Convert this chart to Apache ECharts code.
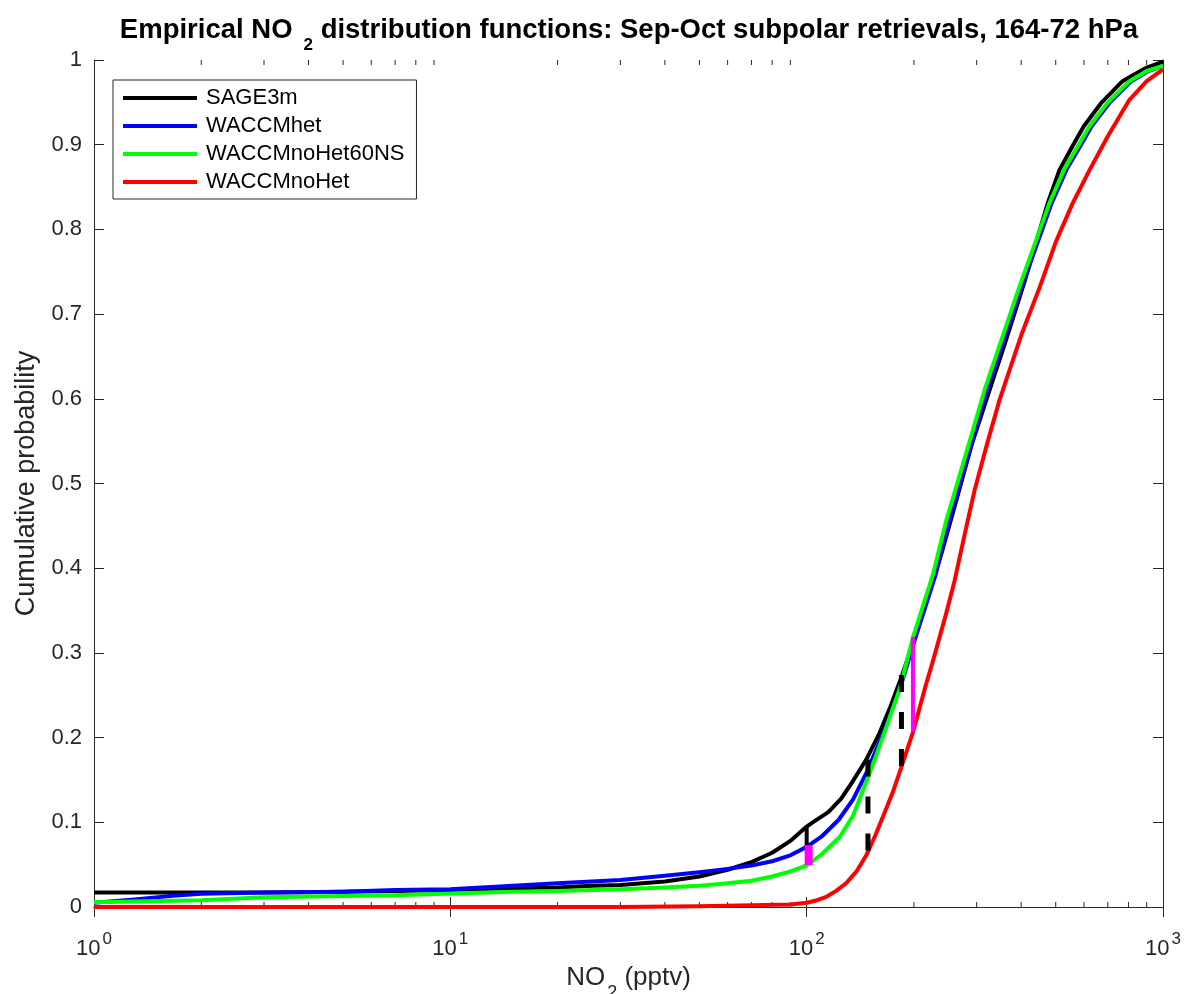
<!DOCTYPE html>
<html>
<head>
<meta charset="utf-8">
<script src="https://cdn.jsdelivr.net/npm/echarts@6/dist/echarts.min.js"></script>
<style>
  html, body { margin: 0; padding: 0; background: #fff; }
  #chart { width: 1186px; height: 994px; }
</style>
</head>
<body>
<div id="chart"></div>
<script>
// NO2 (pptv) and cumulative probability
const sageX = [1, 2, 3, 4, 5, 7, 10, 15, 20, 25, 30, 40, 50, 60, 70, 80, 90, 100, 105, 115, 125, 135, 147, 160, 172, 184, 200, 220, 240, 265, 290, 333, 360, 410, 474, 512, 560, 600, 670, 770, 830, 900, 1000];
const sageP = [0.017, 0.017, 0.017, 0.0175, 0.018, 0.019, 0.020, 0.022, 0.023, 0.025, 0.026, 0.030, 0.036, 0.044, 0.053, 0.064, 0.078, 0.095, 0.101, 0.112, 0.128, 0.149, 0.174, 0.205, 0.237, 0.270, 0.315, 0.370, 0.420, 0.485, 0.545, 0.622, 0.665, 0.740, 0.830, 0.870, 0.900, 0.922, 0.949, 0.975, 0.983, 0.991, 0.998];

const hetX = [1, 1.3, 1.7, 2, 3, 5, 7, 10, 15, 20, 30, 40, 50, 60, 70, 80, 90, 100, 110, 123, 135, 147, 165, 184, 202, 230, 251, 285, 321, 402, 487, 538, 589, 631, 710, 815, 910, 1000];
const hetP = [0.005, 0.009, 0.0135, 0.0155, 0.017, 0.018, 0.020, 0.021, 0.025, 0.028, 0.032, 0.037, 0.041, 0.045, 0.049, 0.054, 0.061, 0.071, 0.083, 0.103, 0.127, 0.158, 0.208, 0.262, 0.318, 0.392, 0.455, 0.535, 0.611, 0.733, 0.831, 0.872, 0.900, 0.922, 0.950, 0.975, 0.987, 0.993];

const noHet60X = [1, 2, 3, 5, 7, 10, 15, 20, 30, 40, 50, 60, 70, 80, 90, 100, 110, 124, 135, 149, 165, 182, 199, 226, 246, 280, 316, 396, 480, 530, 580, 622, 700, 805, 900, 1000];
const noHet60P = [0.0055, 0.008, 0.0115, 0.013, 0.014, 0.016, 0.018, 0.019, 0.021, 0.023, 0.025, 0.028, 0.031, 0.036, 0.042, 0.049, 0.062, 0.083, 0.108, 0.154, 0.205, 0.256, 0.319, 0.392, 0.455, 0.535, 0.611, 0.733, 0.831, 0.872, 0.900, 0.922, 0.950, 0.975, 0.987, 0.993];

const noHetX = [1, 10, 30, 50, 70, 90, 100, 107, 113.5, 121, 129, 138, 147, 156, 165, 175, 184, 199, 216, 226, 246.5, 260, 280, 296, 320, 348, 400, 452, 500, 558, 622, 700, 805, 900, 1000];
const noHetP = [0, 0, 0, 0.001, 0.002, 0.003, 0.005, 0.008, 0.012, 0.019, 0.028, 0.042, 0.061, 0.085, 0.110, 0.137, 0.164, 0.207, 0.262, 0.290, 0.347, 0.385, 0.447, 0.492, 0.545, 0.599, 0.675, 0.733, 0.785, 0.831, 0.870, 0.910, 0.953, 0.975, 0.989];

// largest-gap segments drawn between curves: [x, top, bottom]
const gapSolidBlack = [100, 0.095, 0.071];
const gapMagentaLow = [101.3, 0.073, 0.0496];
const gapDashed1 = [148.6, 0.174, 0.061];
const gapDashed2 = [184.5, 0.274, 0.164];
const gapMagentaHigh = [198.7, 0.319, 0.207];

// minor log ticks
const minorTicks = [2, 3, 4, 5, 6, 7, 8, 9, 20, 30, 40, 50, 60, 70, 80, 90, 200, 300, 400, 500, 600, 700, 800, 900];

const seriesNames = ['SAGE3m', 'WACCMhet', 'WACCMnoHet60NS', 'WACCMnoHet'];

const AX = '#262626';
const FONT = 'Liberation Sans, Arial, Helvetica, sans-serif';

const zip = (xs, ys) => xs.map((x, i) => [x, ys[i]]);
const seg = s => [[s[0], s[1]], [s[0], s[2]]];

const chart = echarts.init(document.getElementById('chart'));

function curve(name, xs, ys, color) {
  return {
    name: name,
    type: 'line',
    data: zip(xs, ys),
    showSymbol: false,
    smooth: false,
    lineStyle: { color: color, width: 4, join: 'round' },
    itemStyle: { color: color },
    animation: false
  };
}

function gapLine(s, color, width, dashed) {
  return {
    type: 'line',
    data: seg(s),
    showSymbol: false,
    silent: true,
    lineStyle: { color: color, width: width, type: dashed ? [17, 20] : 'solid', cap: 'butt' },
    animation: false,
    z: 5
  };
}

const option = {
  animation: false,
  textStyle: { fontFamily: FONT },
  title: {
    text: '{a|Empirical NO}{sub|2}{a| distribution functions: Sep-Oct subpolar retrievals, 164-72 hPa}',
    left: 629,
    top: 16,
    padding: 0,
    textAlign: 'center',
    textStyle: {
      rich: {
        a: { fontSize: 27.5, fontWeight: 'bold', color: '#000', fontFamily: FONT, verticalAlign: 'top' },
        sub: { fontSize: 17, fontWeight: 'bold', color: '#000', fontFamily: FONT, verticalAlign: 'top', padding: [21, 0, 0, 11] }
      }
    }
  },
  legend: {
    data: seriesNames,
    orient: 'vertical',
    left: 113,
    top: 80,
    icon: 'rect',
    itemWidth: 74,
    itemHeight: 4,
    itemGap: 6,
    padding: [7, 12, 6, 10],
    backgroundColor: '#fff',
    borderColor: AX,
    borderWidth: 1,
    borderRadius: 0,
    textStyle: { fontSize: 22, color: '#000', fontFamily: FONT, lineHeight: 22, padding: [0, 0, 0, 4] },
    selectedMode: false
  },
  grid: { left: 94, right: 23, top: 60, bottom: 87, outerBoundsMode: 'none', containLabel: false },
  xAxis: [{
    type: 'log',
    logBase: 10,
    min: 1,
    max: 1000,
    position: 'bottom',
    name: '{a|NO}{sub|2}{a| (pptv)}',
    nameLocation: 'middle',
    nameGap: 41,
    nameTextStyle: {
      rich: {
        a: { fontSize: 26, color: AX, fontFamily: FONT, verticalAlign: 'top' },
        sub: { fontSize: 18, color: AX, fontFamily: FONT, verticalAlign: 'top', padding: [19, 0, 0, 2] }
      }
    },
    axisLine: { show: true, lineStyle: { color: AX, width: 1 } },
    axisTick: { show: true, inside: true, length: 10, lineStyle: { color: AX } },
    splitLine: { show: false },
    axisLabel: {
      margin: 24,
      formatter: v => '{b|10}{s|' + Math.round(Math.log10(v)) + '}',
      rich: {
        b: { fontSize: 22, color: AX, fontFamily: FONT, verticalAlign: 'bottom' },
        s: { fontSize: 17, color: AX, fontFamily: FONT, verticalAlign: 'bottom', padding: [0, 0, 12, 2] }
      }
    }
  }, {
    type: 'log',
    logBase: 10,
    min: 1,
    max: 1000,
    position: 'top',
    axisLine: { show: true, lineStyle: { color: AX, width: 1 } },
    axisTick: { show: true, inside: true, length: 10, lineStyle: { color: AX } },
    axisLabel: { show: false },
    splitLine: { show: false }
  }],
  yAxis: [{
    type: 'value',
    min: 0,
    max: 1,
    interval: 0.1,
    position: 'left',
    name: 'Cumulative probability',
    nameLocation: 'middle',
    nameGap: 54,
    nameTextStyle: { fontSize: 27, color: AX, fontFamily: FONT },
    axisLine: { show: true, lineStyle: { color: AX, width: 1 } },
    axisTick: { show: true, inside: true, length: 10, lineStyle: { color: AX } },
    splitLine: { show: false },
    axisLabel: {
      margin: 12,
      fontSize: 22,
      color: AX,
      fontFamily: FONT,
      formatter: v => (v === 0 ? '0' : v === 1 ? '1' : v.toFixed(1))
    }
  }, {
    type: 'value',
    min: 0,
    max: 1,
    interval: 0.1,
    position: 'right',
    axisLine: { show: true, lineStyle: { color: AX, width: 1 } },
    axisTick: { show: true, inside: true, length: 10, lineStyle: { color: AX } },
    axisLabel: { show: false },
    splitLine: { show: false }
  }],
  series: [
    curve('SAGE3m', sageX, sageP, '#000000'),
    curve('WACCMhet', hetX, hetP, '#0000ff'),
    curve('WACCMnoHet60NS', noHet60X, noHet60P, '#00ff00'),
    curve('WACCMnoHet', noHetX, noHetP, '#ff0000'),
    gapLine(gapSolidBlack, '#000000', 4, false),
    gapLine(gapMagentaLow, '#ff00ff', 8, false),
    gapLine(gapDashed1, '#000000', 5, true),
    gapLine(gapDashed2, '#000000', 5, true),
    gapLine(gapMagentaHigh, '#ff00ff', 4, false),
    {
      type: 'custom',
      silent: true,
      data: minorTicks.map(v => [v, 0]),
      renderItem: (params, api) => {
        const v = api.value(0);
        const b = api.coord([v, 0]);
        const t = api.coord([v, 1]);
        return {
          type: 'group',
          children: [
            { type: 'line', shape: { x1: b[0], y1: b[1], x2: b[0], y2: b[1] - 5 }, style: { stroke: AX, lineWidth: 1 } },
            { type: 'line', shape: { x1: t[0], y1: t[1], x2: t[0], y2: t[1] + 5 }, style: { stroke: AX, lineWidth: 1 } }
          ]
        };
      },
      z: 1,
      animation: false
    }
  ]
};

chart.setOption(option);
</script>
</body>
</html>
